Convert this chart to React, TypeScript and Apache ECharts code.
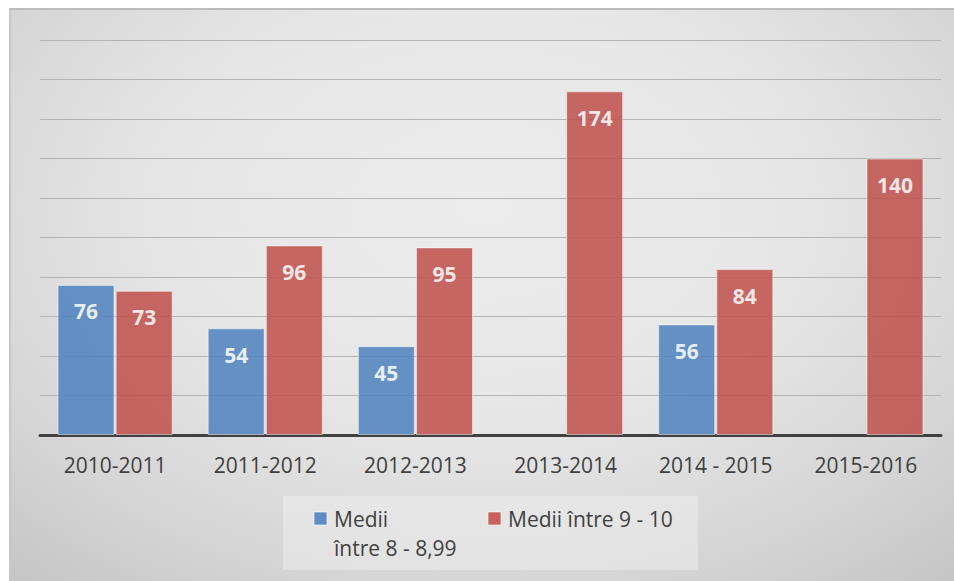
import React, { useEffect, useRef } from "react";
import * as echarts from "echarts";

const categories = ["2010-2011", "2011-2012", "2012-2013", "2013-2014", "2014 - 2015", "2015-2016"];
const seriesBlueName = "Medii între 8 - 8,99";
const seriesRedName = "Medii între 9 - 10";
const blueValues: (number | null)[] = [76, 54, 45, null, 56, null];
const redValues: number[] = [73, 96, 95, 174, 84, 140];
const yMin = 0;
const yMax = 200;
const yInterval = 20;

const FONT = "'Open Sans', 'Liberation Sans', sans-serif";
const TEXT = "#404040";

export default function App() {
  const ref = useRef<HTMLDivElement>(null);
  useEffect(() => {
    if (!ref.current) return;
    const chart = echarts.init(ref.current, null, { renderer: "svg" });
    const label = {
      show: true,
      position: "insideTop",
      distance: 16,
      color: "#ffffff",
      fontFamily: FONT,
      fontWeight: "bold",
      fontSize: 21,
    };
    chart.setOption({
      animation: false,
      backgroundColor: "transparent",
      grid: { left: 40, right: 13, top: 40, bottom: 146, containLabel: false },
      legend: { show: false, data: [seriesBlueName, seriesRedName] },
      xAxis: {
        type: "category",
        data: categories,
        axisLine: { show: true, lineStyle: { color: "#404040", width: 3 } },
        axisTick: { show: false },
        axisLabel: { color: TEXT, fontFamily: FONT, fontSize: 21, margin: 19, interval: 0 },
        splitLine: { show: false },
      },
      yAxis: {
        type: "value",
        min: yMin,
        max: yMax,
        interval: yInterval,
        axisLine: { show: false },
        axisTick: { show: false },
        axisLabel: { show: false },
        splitLine: { show: true, lineStyle: { color: "#b4b4b4", width: 1 } },
      },
      series: [
        {
          name: seriesBlueName,
          type: "bar",
          data: blueValues,
          barWidth: 57,
          barGap: "2%",
          itemStyle: { color: "#4f81bd", opacity: 0.86, borderColor: "rgba(255,255,255,0.6)", borderWidth: 1 },
          label,
        },
        {
          name: seriesRedName,
          type: "bar",
          data: redValues,
          barWidth: 57,
          barGap: "2%",
          itemStyle: { color: "#c0504d", opacity: 0.86, borderColor: "rgba(255,255,255,0.6)", borderWidth: 1 },
          label,
        },
      ],
      graphic: [
        {
          type: "rect",
          shape: { x: 283, y: 496, width: 415, height: 74 },
          style: { fill: "rgba(236,236,236,0.55)" },
          z: 10,
        },
        {
          type: "rect",
          shape: { x: 314, y: 512, width: 13, height: 13 },
          style: { fill: "#5f8cc3", stroke: "rgba(255,255,255,0.6)", lineWidth: 1 },
          z: 11,
        },
        {
          type: "text",
          x: 334,
          y: 519,
          style: { text: "Medii", fill: TEXT, font: `21px ${FONT}`, verticalAlign: "middle", align: "left" },
          z: 11,
        },
        {
          type: "text",
          x: 334,
          y: 548,
          style: { text: "între 8 - 8,99", fill: TEXT, font: `21px ${FONT}`, verticalAlign: "middle", align: "left" },
          z: 11,
        },
        {
          type: "rect",
          shape: { x: 488, y: 512, width: 13, height: 13 },
          style: { fill: "#c7625f", stroke: "rgba(255,255,255,0.6)", lineWidth: 1 },
          z: 11,
        },
        {
          type: "text",
          x: 508,
          y: 519,
          style: { text: seriesRedName, fill: TEXT, font: `21px ${FONT}`, verticalAlign: "middle", align: "left" },
          z: 11,
        },
      ],
    });
    return () => chart.dispose();
  }, []);

  return (
    <div style={{ position: "absolute", left: 0, top: 0, width: 954, height: 581, background: "#ffffff", overflow: "hidden" }}>
      <div
        style={{
          position: "absolute",
          left: 9,
          top: 8,
          width: 945,
          height: 573,
          boxSizing: "border-box",
          borderTop: "2px solid #bcbcbc",
          borderLeft: "2px solid #c6c6c6",
          background: "radial-gradient(ellipse 75% 85% at 50% 35%, #ececec 0%, #e6e6e6 45%, #d4d4d4 80%, #c6c6c6 100%)",
        }}
      />
      <div ref={ref} style={{ position: "absolute", left: 0, top: 0, width: 954, height: 581 }} />
    </div>
  );
}
